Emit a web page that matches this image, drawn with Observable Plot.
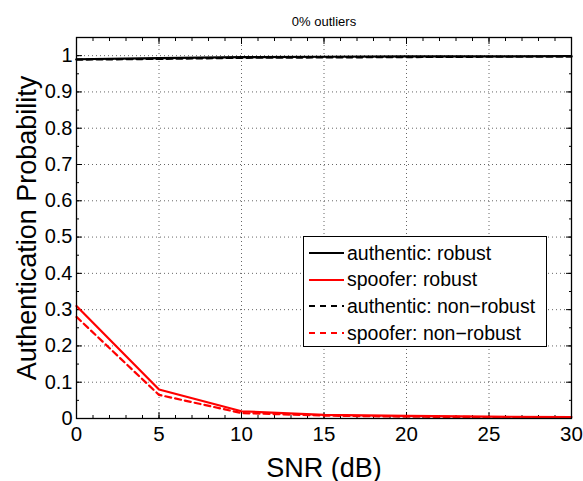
<!DOCTYPE html>
<html><head><meta charset="utf-8">
<script src="https://cdn.jsdelivr.net/npm/d3@7"></script>
<script src="https://cdn.jsdelivr.net/npm/@observablehq/plot@0.6"></script>
<style>
body{margin:0;background:#fff;font-family:"Liberation Sans",Arial,sans-serif;}
#wrap{position:relative;width:583px;height:481px;}
#legend{position:absolute;left:303px;top:236px;width:244px;height:111px;border:1px solid #000;background:#fff;box-sizing:border-box;font-size:19.5px;color:#000;}
.row{position:absolute;left:4px;height:22px;display:flex;align-items:center;white-space:nowrap;}
.row svg{margin-right:3px;}
</style></head><body>
<div id="wrap"><div id="chart"></div><div id="legend"></div></div>
<script>
const snr = [0, 5, 10, 15, 20, 25, 30];
const authRobust = [0.990, 0.993, 0.996, 0.997, 0.998, 0.998, 0.999];
const spoofRobust = [0.310, 0.080, 0.020, 0.010, 0.007, 0.005, 0.004];
const authNonRobust = [0.989, 0.991, 0.994, 0.995, 0.996, 0.997, 0.997];
const spoofNonRobust = [0.280, 0.065, 0.015, 0.008, 0.005, 0.004, 0.003];
const seriesNames = ["authentic: robust", "spoofer: robust", "authentic: non\u2212robust", "spoofer: non\u2212robust"];
const seriesColors = ["#000", "#f00", "#000", "#f00"];
const seriesDash = [null, null, "6,4", "6,4"];
const seriesValues = [authRobust, spoofRobust, authNonRobust, spoofNonRobust];
const xTicks = [0, 5, 10, 15, 20, 25, 30];
const yTicks = d3.range(0, 11).map(i => i / 10);
const title = "0% outliers";

const rows = [];
seriesValues.forEach((vals, s) => vals.forEach((v, i) => rows.push({s, x: snr[i], y: v})));

const xMinor = d3.range(0, 31, 1);
const yMinor = d3.range(0, 21).map(i => i / 20);
const fmt = d => d === 0 ? "0" : d === 1 ? "1" : String(d);

const lineMarks = [0, 1, 2, 3].map(s => Plot.line(rows.filter(r => r.s === s), {
  x: "x", y: "y", stroke: seriesColors[s], strokeWidth: 2.2, strokeDasharray: seriesDash[s]
}));

const chart = Plot.plot({
  width: 583, height: 481,
  marginLeft: 76, marginRight: 12, marginTop: 37, marginBottom: 63,
  style: {fontFamily: "Liberation Sans, Arial, sans-serif", background: "#fff"},
  x: {domain: [0, 30]},
  y: {domain: [0, 1.05]},
  marks: [
    Plot.gridX(xTicks, {stroke: "#000", strokeOpacity: 0.6, strokeDasharray: "1,3"}),
    Plot.gridY(yTicks, {stroke: "#000", strokeOpacity: 0.6, strokeDasharray: "1,3"}),
    Plot.axisX(xMinor, {anchor: "bottom", tickSize: -3, text: null, label: null}),
    Plot.axisX(xMinor, {anchor: "top", tickSize: -3, text: null, label: null}),
    Plot.axisX(xTicks, {anchor: "bottom", tickSize: -6, text: null, label: null}),
    Plot.axisX(xTicks, {anchor: "top", tickSize: -6, text: null, label: null}),
    Plot.axisY(yMinor, {anchor: "left", tickSize: -3, text: null, label: null}),
    Plot.axisY(yMinor, {anchor: "right", tickSize: -3, text: null, label: null}),
    Plot.axisY(yTicks, {anchor: "left", tickSize: -6, text: null, label: null}),
    Plot.axisY(yTicks, {anchor: "right", tickSize: -6, text: null, label: null}),
    Plot.axisX(xTicks, {anchor: "bottom", tickSize: 0, tickPadding: 8, fontSize: 20.5, fill: "#000", label: "SNR (dB)", labelAnchor: "center", labelArrow: "none", labelOffset: 58}),
    Plot.axisY(yTicks, {anchor: "left", tickSize: 0, tickPadding: 4, fontSize: 20, fill: "#000", tickFormat: fmt, label: "Authentication Probability", labelAnchor: "center", labelArrow: "none", labelOffset: 60}),
    ...lineMarks,
    Plot.frame({stroke: "#000", strokeWidth: 1.3}),
    Plot.text([title], {frameAnchor: "top", dy: -21, fontSize: 13, fill: "#000"})
  ]
});
d3.select(chart).selectAll("[aria-label='x-axis label'] text, [aria-label='y-axis label'] text").style("font-size", "27px");
document.getElementById("chart").appendChild(chart);

const legend = document.getElementById("legend");
seriesNames.forEach((name, i) => {
  const row = document.createElement("div");
  row.className = "row";
  row.style.top = (5 + i * 26.7) + "px";
  row.innerHTML = `<svg width="36" height="10"><line x1="1" x2="36" y1="5" y2="5" stroke="${seriesColors[i]}" stroke-width="2" ${seriesDash[i] ? `stroke-dasharray="6,5"` : ""}/></svg><span>${name}</span>`;
  legend.appendChild(row);
});
</script>
</body></html>
